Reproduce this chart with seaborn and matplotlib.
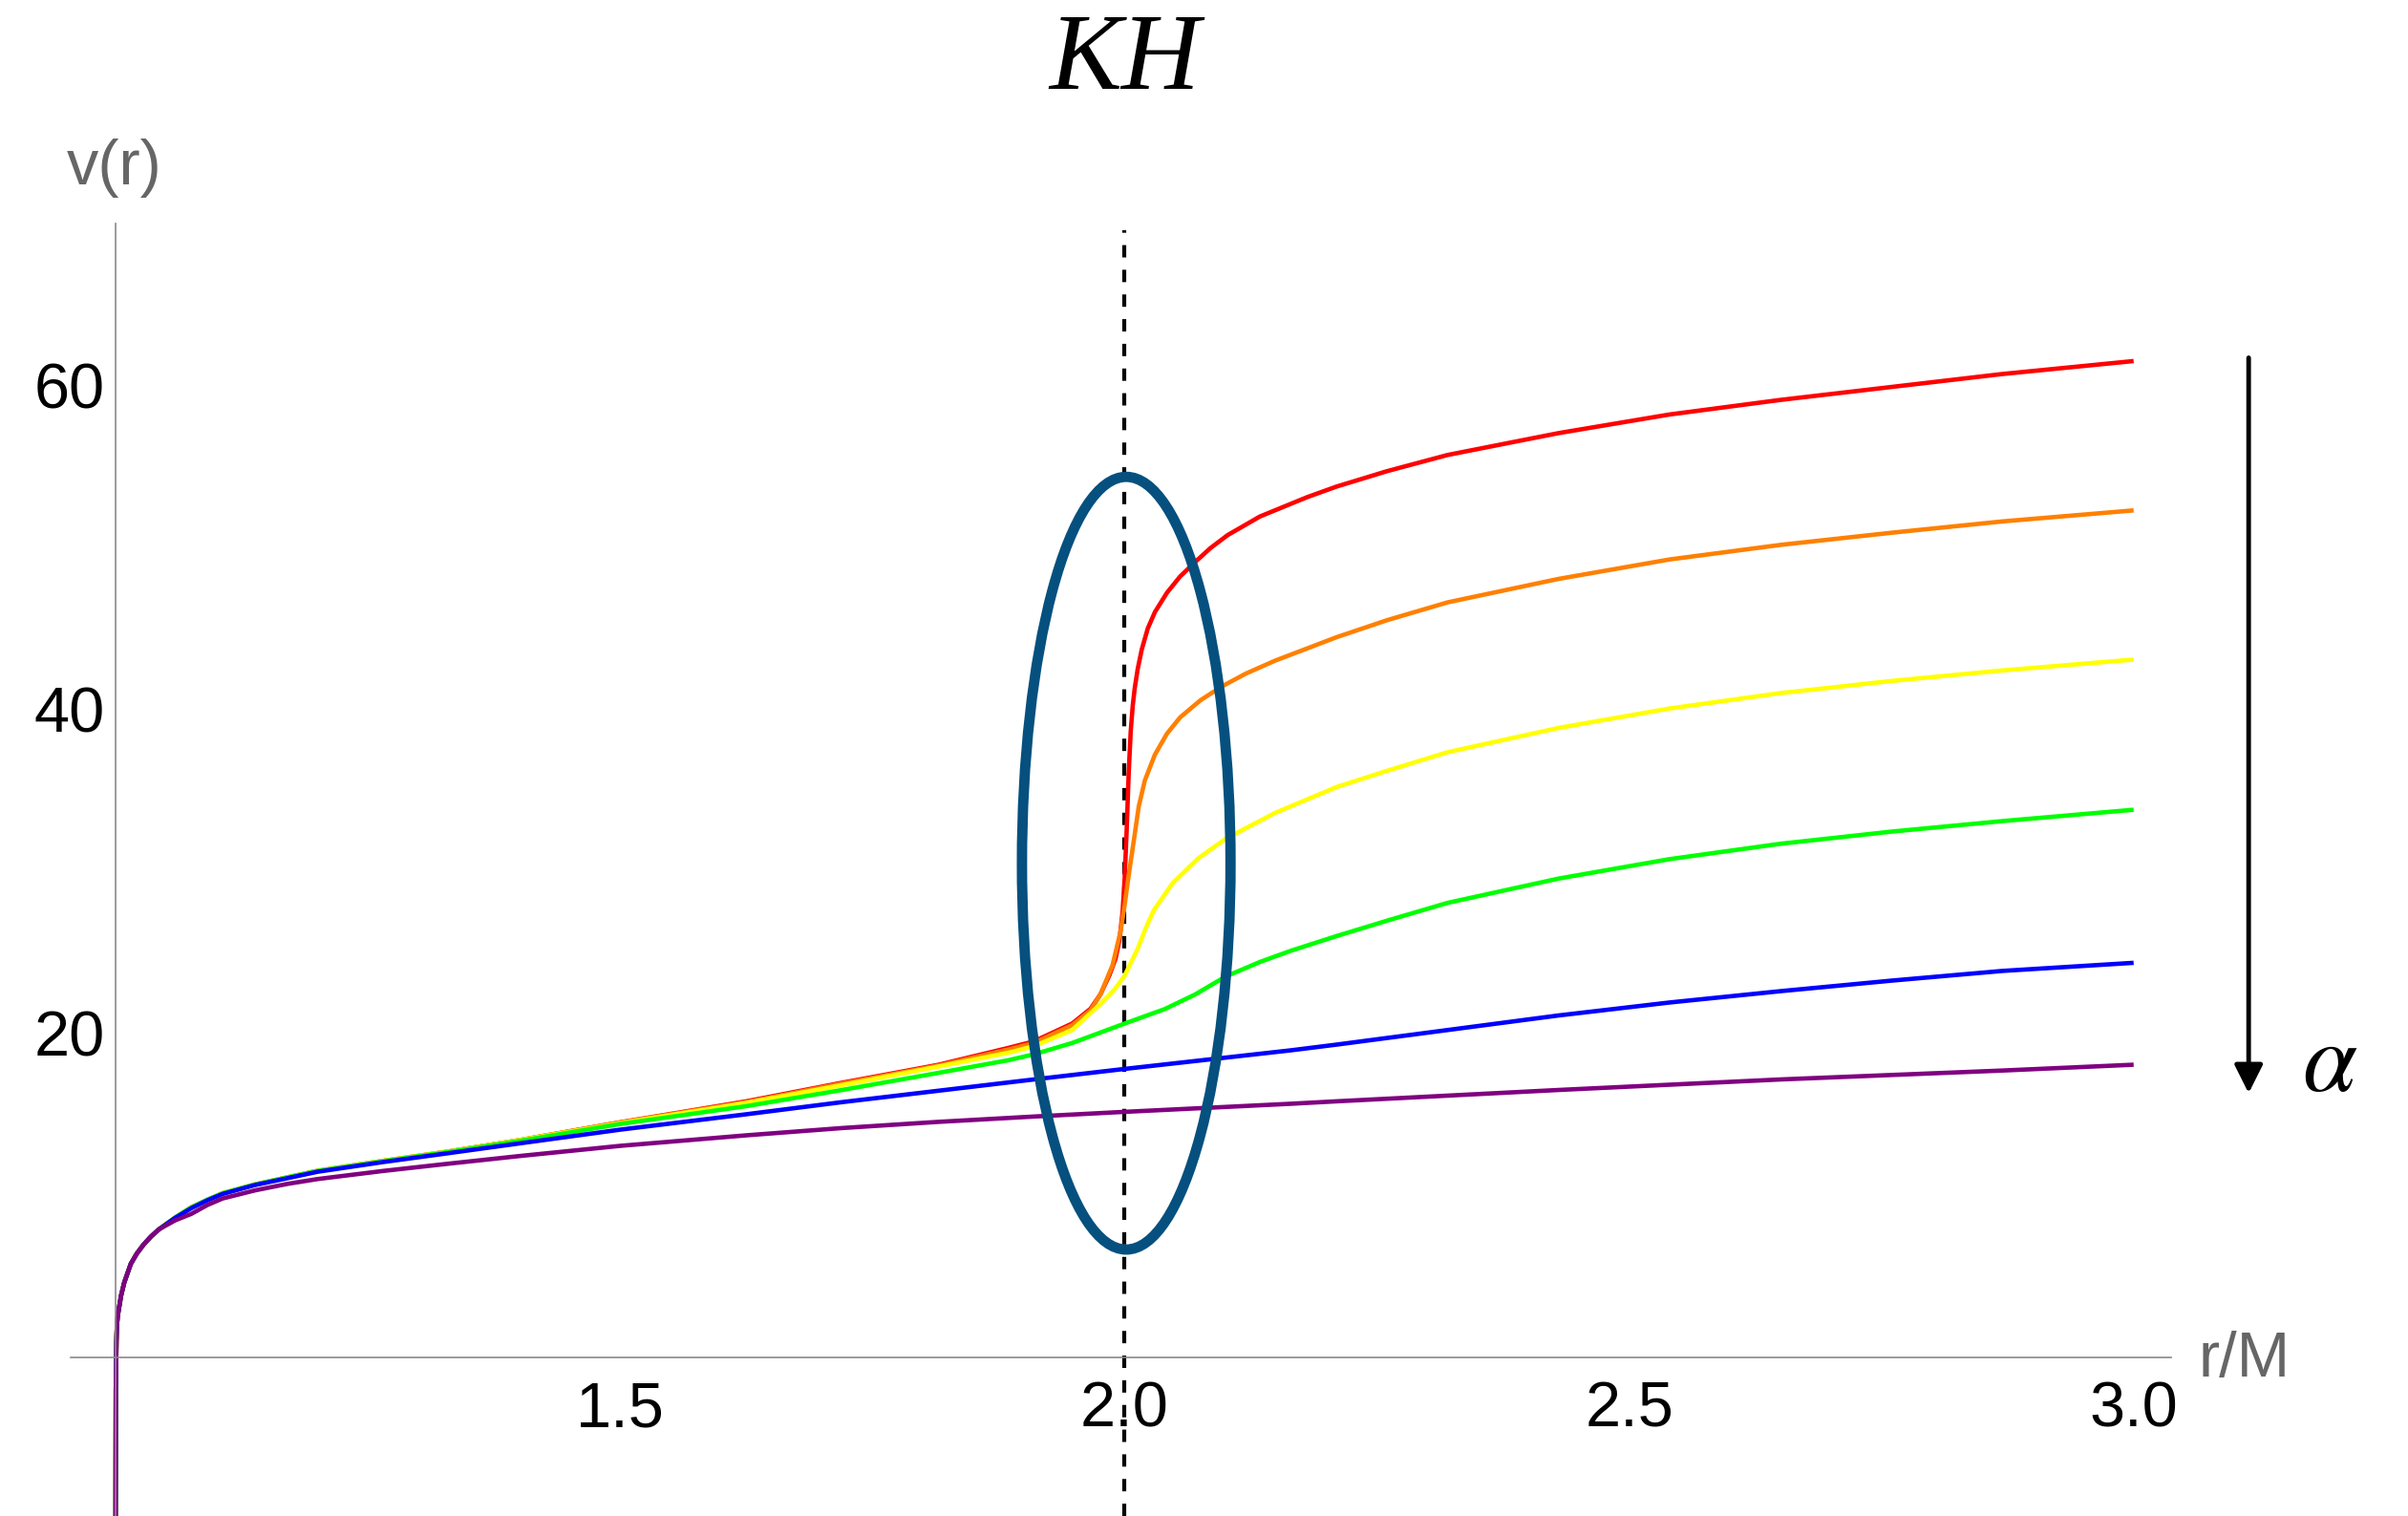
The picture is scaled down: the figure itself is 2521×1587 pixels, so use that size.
import matplotlib
matplotlib.use("Agg")
import matplotlib.pyplot as plt
import seaborn as sns
from matplotlib.patches import Ellipse

# ---------------- data ----------------
# shared steep start near r/M = 1 (all six curves coincide)
r_head = [1.0, 1.0002, 1.0008, 1.0013, 1.0022, 1.0054, 1.0085, 1.015, 1.021, 1.0275,
          1.035, 1.043]
v_head = [-10.0, -2.0, 1.0, 2.0, 2.6, 3.8, 4.6, 5.76, 6.4, 6.94,
          7.45, 7.9]

r_red = [1.059, 1.075, 1.091, 1.106, 1.138, 1.17, 1.2, 1.265, 1.33, 1.4, 1.5, 1.625,
         1.72, 1.815, 1.885, 1.91, 1.948, 1.966, 1.976, 1.985, 1.991, 1.995, 1.998,
         2.0, 2.002, 2.004, 2.006, 2.008, 2.01, 2.013, 2.017, 2.023, 2.03, 2.042,
         2.055, 2.07, 2.085, 2.102, 2.134, 2.181, 2.21, 2.26, 2.32, 2.43, 2.54,
         2.65, 2.76, 2.87, 3.0]
v_red = [8.62, 9.25, 9.72, 10.12, 10.66, 11.1, 11.5, 12.12, 12.7, 13.4, 14.5, 15.8,
         16.95, 18.05, 19.1, 19.5, 20.6, 21.5, 22.4, 23.6, 24.6, 25.8, 27.5,
         29.5, 32.5, 36.0, 38.6, 40.2, 41.3, 42.5, 43.7, 45.0, 46.0, 47.2,
         48.2, 49.1, 49.95, 50.75, 51.9, 53.1, 53.75, 54.7, 55.7, 57.05, 58.2,
         59.1, 59.9, 60.7, 61.5]

r_orange = [1.059, 1.075, 1.091, 1.106, 1.138, 1.17, 1.2, 1.265, 1.33, 1.4, 1.5, 1.625,
            1.72, 1.815, 1.885, 1.91, 1.948, 1.966, 1.976, 1.988, 1.996, 2.0, 2.003,
            2.007, 2.014, 2.02, 2.03, 2.042, 2.055, 2.075, 2.096, 2.12, 2.149, 2.21,
            2.26, 2.32, 2.43, 2.54, 2.65, 2.76, 2.87, 3.0]
v_orange = [8.62, 9.25, 9.72, 10.12, 10.66, 11.1, 11.5, 12.12, 12.7, 13.4, 14.5, 15.75,
            16.9, 18.0, 19.0, 19.4, 20.5, 21.4, 22.4, 24.2, 26.3, 27.9, 29.3,
            31.0, 34.0, 35.6, 37.2, 38.5, 39.5, 40.55, 41.4, 42.2, 43.0, 44.45,
            45.5, 46.6, 48.05, 49.25, 50.15, 50.9, 51.6, 52.28]

r_yellow = [1.059, 1.075, 1.091, 1.106, 1.138, 1.17, 1.2, 1.265, 1.33, 1.4, 1.5, 1.625,
            1.72, 1.815, 1.885, 1.91, 1.948, 1.976, 1.99, 2.0, 2.0135, 2.021, 2.029,
            2.048, 2.073, 2.1, 2.149, 2.21, 2.26, 2.32, 2.43, 2.54, 2.65, 2.76,
            2.87, 3.0]
v_yellow = [8.62, 9.25, 9.72, 10.12, 10.66, 11.1, 11.5, 12.12, 12.7, 13.4, 14.45, 15.7,
            16.8, 17.94, 18.8, 19.2, 20.2, 21.8, 22.7, 23.55, 25.3, 26.5, 27.6,
            29.3, 30.8, 32.0, 33.6, 35.2, 36.2, 37.35, 38.85, 40.05, 41.0, 41.75,
            42.4, 43.07]

r_green = [1.059, 1.075, 1.091, 1.106, 1.138, 1.17, 1.2, 1.265, 1.33, 1.4, 1.5, 1.625,
           1.72, 1.815, 1.885, 1.91, 1.948, 2.0, 2.04, 2.07, 2.1, 2.134, 2.165, 2.21,
           2.26, 2.32, 2.43, 2.54, 2.65, 2.76, 2.87, 3.0]
v_green = [8.62, 9.25, 9.72, 10.12, 10.66, 11.1, 11.5, 12.1, 12.68, 13.35, 14.4, 15.5,
           16.5, 17.55, 18.34, 18.7, 19.4, 20.6, 21.5, 22.4, 23.5, 24.4, 25.1, 26.0,
           26.95, 28.05, 29.55, 30.75, 31.7, 32.45, 33.1, 33.8]

r_blue = [1.059, 1.075, 1.091, 1.106, 1.138, 1.17, 1.2, 1.265, 1.33, 1.4, 1.5, 1.625,
          1.72, 1.815, 1.91, 2.0, 2.165, 2.21, 2.32, 2.43, 2.54, 2.65, 2.76, 2.87, 3.0]
v_blue = [8.6, 9.2, 9.69, 10.08, 10.63, 11.05, 11.45, 12.05, 12.6, 13.2, 14.05, 15.0,
          15.75, 16.45, 17.15, 17.8, 18.95, 19.3, 20.2, 21.1, 21.9, 22.6, 23.25, 23.85,
          24.35]

r_purple = [1.059, 1.075, 1.091, 1.106, 1.138, 1.17, 1.2, 1.265, 1.33, 1.4, 1.5, 1.625,
            1.72, 1.815, 1.91, 2.0, 2.165, 2.21, 2.43, 2.65, 2.87, 3.0]
v_purple = [8.45, 8.85, 9.4, 9.8, 10.3, 10.7, 11.0, 11.5, 11.95, 12.42, 13.05, 13.7,
            14.15, 14.53, 14.86, 15.15, 15.65, 15.8, 16.5, 17.15, 17.7, 18.06]

x_major = [1.5, 2.0, 2.5, 3.0]
x_major_labels = ["1.5", "2.0", "2.5", "3.0"]
x_minor = [1.1, 1.2, 1.3, 1.4, 1.6, 1.7, 1.8, 1.9, 2.1, 2.2, 2.3, 2.4, 2.6, 2.7, 2.8, 2.9]
y_major = [20, 40, 60]
y_major_labels = ["20", "40", "60"]
y_minor = [-5, 5, 10, 15, 25, 30, 35, 45, 50, 55, 65, 70]

horizon_r = 2.0
ellipse_center = (2.0016, 30.5)
ellipse_size = (0.2067, 47.7)
arrow_r = 3.114
arrow_from, arrow_to = 61.7, 16.3

# ---------------- drawing ----------------
sns.set_theme(style="white")
plt.rcParams["font.family"] = ["Liberation Sans", "DejaVu Sans"]
plt.rcParams["mathtext.fontset"] = "stix"

fig = plt.figure(figsize=(25.21, 15.87), dpi=100)
ax = fig.add_axes([0.02916, 0.0, 0.8724, 0.85267])

curves = [
    (r_red, v_red, "#FF0000"),
    (r_orange, v_orange, "#FF8000"),
    (r_yellow, v_yellow, "#FFFF00"),
    (r_green, v_green, "#00FF00"),
    (r_blue, v_blue, "#0000FF"),
    (r_purple, v_purple, "#800080"),
]
for r, v, c in curves:
    rr = r_head + r
    vv = v_head + v
    sns.lineplot(x=rr, y=vv, color=c, linewidth=3.3, ax=ax, sort=False,
                 estimator=None, legend=False)
for line in ax.get_lines():
    line.set_solid_joinstyle("round")
    line.set_solid_capstyle("butt")

ax.set_xlim(0.955, 3.037)
ax.set_ylim(-9.8, 70)

axis_gray = "#8a8a8a"
ax.spines["left"].set_position(("data", 1.0))
ax.spines["bottom"].set_position(("data", 0.0))
ax.spines["top"].set_visible(False)
ax.spines["right"].set_visible(False)
for s in ("left", "bottom"):
    ax.spines[s].set_color(axis_gray)
    ax.spines[s].set_linewidth(1.2)

ax.set_xticks(x_major)
ax.set_xticklabels(x_major_labels)
ax.set_xticks(x_minor, minor=True)
ax.set_yticks(y_major)
ax.set_yticklabels(y_major_labels)
ax.set_yticks(y_minor, minor=True)
ax.tick_params(which="major", direction="in", length=9.6, width=1.2, color=axis_gray,
               labelsize=48, labelcolor="black")
ax.tick_params(which="minor", direction="in", length=6, width=1.0, color=axis_gray)
ax.tick_params(axis="x", which="major", pad=18)
ax.tick_params(axis="y", which="major", pad=8)
ax.set_xlabel("")
ax.set_ylabel("")
ax.grid(False)

# dashed horizon line
ax.axvline(horizon_r, ymin=0, ymax=(69.6 + 9.8) / 79.8, color="black", lw=3.0,
           linestyle=(0, (3.1, 3.1)), zorder=1)

# hand drawn ellipse
ax.add_patch(Ellipse(ellipse_center, ellipse_size[0], ellipse_size[1], fill=False,
                     edgecolor="#05507e", lw=7.8, zorder=5))

# alpha arrow
ax.annotate("", xy=(arrow_r, arrow_to), xytext=(arrow_r, arrow_from),
            arrowprops=dict(arrowstyle="-|>", lw=3.5, color="black", mutation_scale=45,
                            shrinkA=0, shrinkB=0),
            annotation_clip=False)

fig.text(0.9675, 0.2974, r"$\alpha$", fontsize=74, ha="center", va="center", color="black")
fig.text(0.4669, 0.9414, "KH", fontsize=82, family="Liberation Serif", style="italic",
         ha="center", va="baseline", color="black")
fig.text(0.0278, 0.8784, "v(r)", fontsize=48, ha="left", va="baseline", color="#666666")
fig.text(0.9131, 0.092, "r/M", fontsize=48, ha="left", va="baseline", color="#666666")

fig.savefig("out.png", dpi=100)
